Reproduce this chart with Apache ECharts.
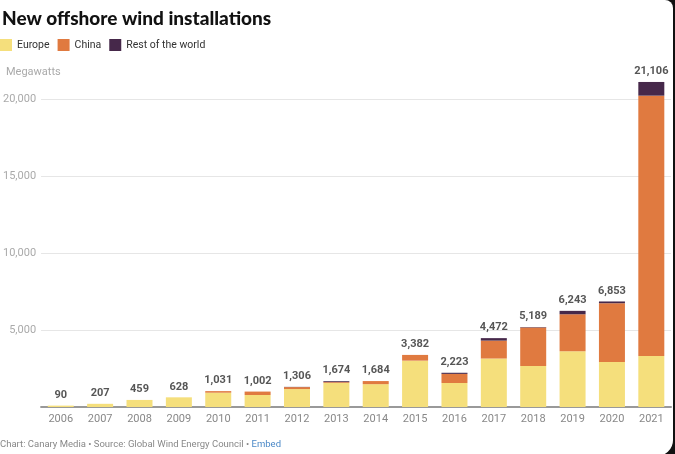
<!DOCTYPE html>
<html>
<head>
<meta charset="utf-8">
<script src="https://cdn.jsdelivr.net/npm/echarts@6/dist/echarts.min.js"></script>
<style>html,body{margin:0;padding:0;background:#111;}#c{width:675px;height:454px;}</style>
</head>
<body>
<div id="c"></div>
<script>
const years = ['2006','2007','2008','2009','2010','2011','2012','2013','2014','2015','2016','2017','2018','2019','2020','2021'];
const europe = [90, 207, 459, 628, 930, 780, 1165, 1567, 1483, 3010, 1560, 3148, 2660, 3627, 2930, 3317];
const china  = [0, 0, 0, 0, 101, 222, 127, 50, 201, 372, 590, 1164, 2500, 2395, 3810, 16900];
const rest   = [0, 0, 0, 0, 0, 0, 14, 57, 0, 0, 73, 160, 29, 221, 113, 889];
const totals = [90, 207, 459, 628, 1031, 1002, 1306, 1674, 1684, 3382, 2223, 4472, 5189, 6243, 6853, 21106];
const yTicks = [0, 5000, 10000, 15000, 20000];

const chart = echarts.init(document.getElementById('c'), null, {renderer: 'canvas'});
const fmt = v => v.toLocaleString('en-US');
const FONT = 'Roboto, "Noto Sans", sans-serif';

chart.setOption({
  backgroundColor: '#111',
  animation: false,
  textStyle: {fontFamily: FONT},
  title: {
    text: 'New offshore wind installations',
    left: -3, top: 4,
    textStyle: {fontFamily: 'Lato, Roboto, sans-serif', fontSize: 19, fontWeight: 900, color: '#111'}
  },
  legend: {
    data: ['Europe', 'China', 'Rest of the world'],
    left: -5, top: 34,
    icon: 'rect', itemWidth: 12, itemHeight: 12, itemGap: 8,
    textStyle: {fontSize: 10.5, color: '#333', fontFamily: FONT}
  },
  graphic: [
    {type: 'rect', z: -10, shape: {x: 0, y: 0, width: 673, height: 456, r: [0, 8, 16, 0]}, style: {fill: '#fff'}},
    {type: 'text', left: 6, top: 67, style: {text: 'Megawatts', fill: '#aaa', fontSize: 11, fontFamily: FONT}},
    {type: 'text', left: 0, top: 440, style: {
      text: '{a|Chart: Canary Media • Source: Global Wind Energy Council • }{b|Embed}',
      rich: {a: {fill: '#888', fontSize: 9.5, fontFamily: FONT}, b: {fill: '#4a88c7', fontSize: 9.5, fontFamily: FONT}}
    }}
  ],
  grid: {left: 35, right: 4, top: 99, bottom: 47},
  xAxis: {
    type: 'category', data: years,
    axisLine: {lineStyle: {color: '#999', width: 2}},
    axisTick: {show: false},
    axisLabel: {color: '#888', fontSize: 11, margin: 7}
  },
  yAxis: {
    type: 'value', min: 0, max: 20000, interval: 5000,
    axisLine: {show: false}, axisTick: {show: false},
    axisLabel: {color: '#aaa', fontSize: 11, margin: 5, formatter: v => (v === 0 ? '' : fmt(v))},
    splitLine: {lineStyle: {color: '#e6e6e6', width: 1}}
  },
  series: [
    {name: 'Europe', type: 'bar', stack: 's', data: europe, barWidth: 26, clip: false, itemStyle: {color: '#f5df7c'}},
    {name: 'China', type: 'bar', stack: 's', data: china, barWidth: 26, clip: false, itemStyle: {color: '#e07a40'}},
    {name: 'Rest of the world', type: 'bar', stack: 's', data: rest, barWidth: 26, clip: false, itemStyle: {color: '#46284a'}},
    {name: 'Total', type: 'scatter', data: totals, symbolSize: 0, clip: false, silent: true,
     label: {show: true, position: 'top', distance: 5, formatter: p => fmt(p.value), fontSize: 11, fontWeight: 'bold', color: '#2a2a2a', fontFamily: FONT}}
  ]
});
</script>
</body>
</html>
